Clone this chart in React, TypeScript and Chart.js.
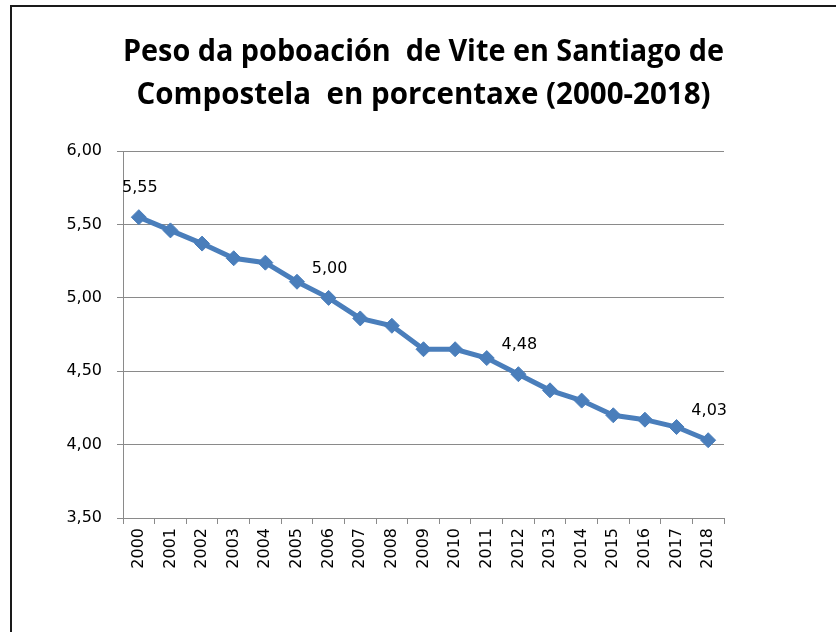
import React, { useEffect, useRef } from "react";
import { Chart, registerables } from "chart.js";

Chart.register(...registerables);

const years = [
  "2000", "2001", "2002", "2003", "2004", "2005", "2006", "2007", "2008", "2009",
  "2010", "2011", "2012", "2013", "2014", "2015", "2016", "2017", "2018",
];
const shares = [
  5.55, 5.46, 5.37, 5.27, 5.24, 5.11, 5.0, 4.86, 4.81, 4.65,
  4.65, 4.59, 4.48, 4.37, 4.3, 4.2, 4.17, 4.12, 4.03,
];
const labelledYears = ["2000", "2006", "2012", "2018"];
const titleLines = [
  "Peso da poboación  de Vite en Santiago de",
  "Compostela  en porcentaxe (2000-2018)",
];
const yMin = 3.5;
const yMax = 6.0;
const yStep = 0.5;

const fmt = (v: number) => v.toFixed(2).replace(".", ",");

const TICK_FONT = "'DejaVu Sans', Verdana, sans-serif";

const pointLabels = {
  id: "pointLabels",
  afterDatasetsDraw(chart: any) {
    const meta = chart.getDatasetMeta(0);
    const ctx = chart.ctx;
    ctx.save();
    ctx.font = `16px ${TICK_FONT}`;
    ctx.fillStyle = "#000";
    ctx.textAlign = "center";
    ctx.textBaseline = "middle";
    meta.data.forEach((pt: any, i: number) => {
      if (!labelledYears.includes(years[i])) return;
      ctx.fillText(fmt(shares[i]), pt.x + 1, pt.y - 29);
    });
    ctx.restore();
  },
};

export default function App() {
  const ref = useRef<HTMLCanvasElement | null>(null);

  useEffect(() => {
    if (!ref.current) return;
    const chart = new Chart(ref.current, {
      type: "line",
      data: {
        labels: years,
        datasets: [
          {
            data: shares,
            borderColor: "#4A7EBB",
            backgroundColor: "#4A7EBB",
            borderWidth: 5,
            pointStyle: "rectRot",
            pointRadius: 7.5,
            pointBorderWidth: 1,
            pointBackgroundColor: "#4A7EBB",
            pointBorderColor: "#4A7EBB",
            tension: 0,
            fill: false,
          },
        ],
      },
      options: {
        responsive: false,
        animation: false,
        devicePixelRatio: 1,
        layout: { padding: { left: 0, right: 112, top: 0, bottom: 0 } },
        plugins: {
          legend: { display: false },
          tooltip: { enabled: false },
          title: {
            display: true,
            fullSize: false,
            text: titleLines,
            color: "#000",
            font: {
              family: "'Open Sans', sans-serif",
              size: 29.5,
              weight: "bold",
              lineHeight: 1.46,
            },
            padding: { top: 31, bottom: 34 },
          },
        },
        scales: {
          x: {
            type: "category",
            offset: true,
            grid: {
              offset: true,
              drawOnChartArea: false,
              drawTicks: true,
              tickLength: 6,
              color: "#8a8a8a",
            },
            border: { display: true, color: "#8a8a8a" },
            ticks: {
              minRotation: 90,
              maxRotation: 90,
              autoSkip: false,
              padding: 4,
              color: "#000",
              font: { family: TICK_FONT, size: 16 },
            },
            afterFit(scale: any) {
              scale.height = 114;
            },
          },
          y: {
            min: yMin,
            max: yMax,
            grid: {
              color: "#8a8a8a",
              drawTicks: true,
              tickLength: 6,
            },
            border: { display: true, color: "#8a8a8a" },
            ticks: {
              stepSize: yStep,
              padding: 15,
              color: "#000",
              font: { family: TICK_FONT, size: 16 },
              callback: (v: any) => fmt(Number(v)),
            },
            afterFit(scale: any) {
              scale.width = 123;
            },
          },
        },
      },
      plugins: [pointLabels],
    });
    return () => chart.destroy();
  }, []);

  return (
    <div style={{ position: "absolute", left: 0, top: 0, width: 836, height: 632, background: "#fff" }}>
      <div
        style={{
          position: "absolute",
          left: 10,
          top: 5,
          width: 826,
          height: 627,
          borderLeft: "2px solid #1a1a1a",
          borderTop: "2px solid #1a1a1a",
          boxSizing: "border-box",
        }}
      />
      <canvas ref={ref} width={836} height={632} style={{ position: "absolute", left: 0, top: 0 }} />
    </div>
  );
}
